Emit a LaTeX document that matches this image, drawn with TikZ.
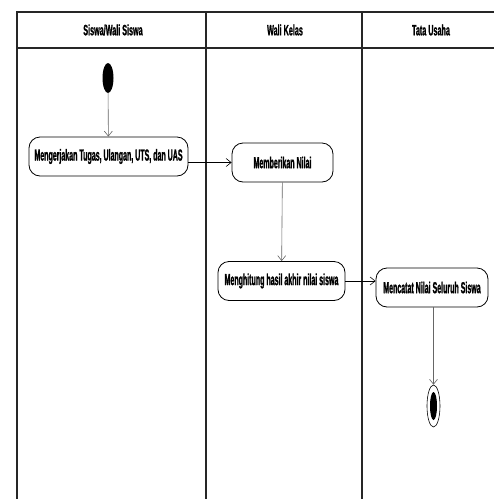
\documentclass[tikz,border=0pt]{standalone}
\usepackage{fontspec}
\usepackage{tikz}
\usetikzlibrary{shapes.geometric,arrows.meta}
\newfontfamily\umlfont[UprightFont=* Bold, FakeStretch=0.44, FakeBold=1.2]{Liberation Sans}
\newfontfamily\lanefont[UprightFont=* Bold, FakeStretch=0.48, FakeBold=1]{Liberation Sans}

\begin{document}
\begin{tikzpicture}[x=1pt,y=-1pt]
      \tikzstyle{every node}+=[inner sep=0pt]
      \tikzstyle{lane}=[draw=black!85, line width=1.3pt]
      \tikzstyle{head}=[font=\lanefont\fontsize{15}{15}\selectfont]
      \tikzstyle{act}=[draw, line width=0.8pt, rounded corners=11pt, minimum height=39pt,
        font=\umlfont\fontsize{16}{16}\selectfont]
      \tikzstyle{flow}=[black, line width=0.6pt, -{Straight Barb[length=5pt,width=8pt]}]
      \useasboundingbox (0,0) rectangle (494,499);
      % swimlanes
      \draw [lane, line width=2pt] (17,12) -- (494,12);
      \draw [lane, line width=2pt] (17,48) -- (494,48);
      \draw [lane] (17,11) -- (17,499);
      \draw [lane] (206,11) -- (206,499);
      \draw [lane] (362,11) -- (362,499);
      \node [head] (siswa) at (113,30) {Siswa/Wali Siswa};
      \node [head] (wali) at (285,30) {Wali Kelas};
      \node [head] (tu) at (431,30) {Tata Usaha};
      % activities
      \node [ellipse, fill=black, minimum width=11pt, minimum height=30pt] (start) at (108,78) {};
      \node [act, minimum width=159pt] (kerja) at (108.5,156.5) {Mengerjakan Tugas, Ulangan, UTS, dan UAS};
      \node [act, minimum width=101pt] (nilai) at (282.5,162.5) {Memberikan Nilai};
      \node [act, minimum width=127pt] (hitung) at (281.5,281) {Menghitung hasil akhir nilai siswa};
      \node [act, minimum width=112pt] (catat) at (432,287.5) {Mencatat Nilai Seluruh Siswa};
      \node [ellipse, draw, line width=0.6pt, minimum width=13pt, minimum height=42pt] (end) at (433.5,406) {};
      \node [ellipse, fill=black, minimum width=7pt, minimum height=28pt] at (end) {};
      % transitions
      \draw [flow, black!60] (start) -- (kerja);
      \draw [flow] (kerja.east |- nilai.west) -- (nilai.west);
      \draw [flow, black!60] (nilai) -- (hitung);
      \draw [flow] (hitung.east) -- (hitung.east -| catat.west);
      \draw [flow, black!60] (catat.south -| end) -- (end);
\end{tikzpicture}
\end{document}
